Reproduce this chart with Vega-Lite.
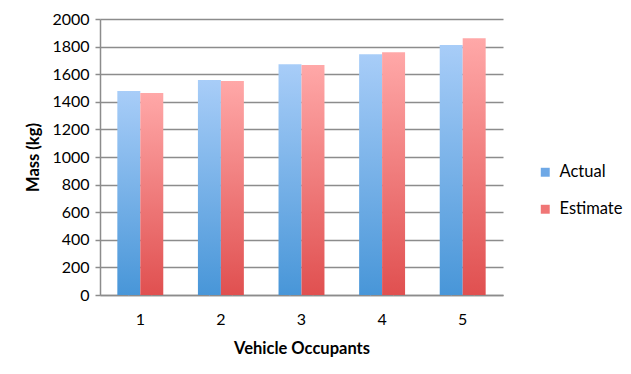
{
  "$schema": "https://vega.github.io/schema/vega-lite/v6.json",
  "width": 403,
  "height": 276,
  "autosize": {"type": "none"},
  "padding": {"left": 100, "top": 19, "right": 128, "bottom": 79},
  "background": "white",
  "data": {
    "values": [
      {"occupants": "1", "series": "Actual", "mass": 1478},
      {"occupants": "1", "series": "Estimate", "mass": 1464},
      {"occupants": "2", "series": "Actual", "mass": 1558},
      {"occupants": "2", "series": "Estimate", "mass": 1551},
      {"occupants": "3", "series": "Actual", "mass": 1672},
      {"occupants": "3", "series": "Estimate", "mass": 1667},
      {"occupants": "4", "series": "Actual", "mass": 1744},
      {"occupants": "4", "series": "Estimate", "mass": 1759},
      {"occupants": "5", "series": "Actual", "mass": 1812},
      {"occupants": "5", "series": "Estimate", "mass": 1860}
    ]
  },
  "encoding": {
    "x": {
      "field": "occupants",
      "type": "nominal",
      "scale": {"paddingInner": 0.43, "paddingOuter": 0.215},
      "axis": {
        "title": "Vehicle Occupants",
        "labelAngle": 0,
        "labelFont": "Lato",
        "labelFontSize": 16,
        "labelColor": "#000000",
        "labelPadding": 16,
        "ticks": false,
        "domainColor": "#8c8c8c",
        "domainWidth": 1.5,
        "titleFont": "Lato",
        "titleFontSize": 16.5,
        "titleFontWeight": "bold",
        "titleColor": "#000000",
        "titlePadding": 13
      }
    },
    "xOffset": {"field": "series", "type": "nominal", "scale": {"domain": ["Actual", "Estimate"], "paddingInner": 0, "paddingOuter": 0}},
    "y": {
      "field": "mass",
      "type": "quantitative",
      "scale": {"domain": [0, 2000], "nice": false},
      "axis": {
        "title": "Mass (kg)",
        "format": "d",
        "values": [0, 200, 400, 600, 800, 1000, 1200, 1400, 1600, 1800, 2000],
        "labelFont": "Lato",
        "labelFontSize": 16,
        "labelColor": "#000000",
        "labelPadding": 6,
        "tickSize": 5,
        "tickColor": "#8c8c8c",
        "tickWidth": 1.5,
        "domainColor": "#8c8c8c",
        "domainWidth": 1.5,
        "grid": true,
        "gridColor": "#8c8c8c",
        "gridWidth": 1.5,
        "titleFont": "Lato",
        "titleFontSize": 16.5,
        "titleFontWeight": "bold",
        "titleColor": "#000000",
        "titlePadding": 10
      }
    }
  },
  "layer": [
    {
      "mark": {"type": "square", "size": 1, "opacity": 1},
      "encoding": {
        "y": {"datum": 0},
        "color": {
          "field": "series",
          "type": "nominal",
          "scale": {"domain": ["Actual", "Estimate"], "range": ["#6ea8e6", "#f07676"]},
          "legend": {
            "title": null,
            "orient": "none",
            "legendX": 437,
            "legendY": 145,
            "symbolType": "square",
            "symbolSize": 80,
            "symbolStrokeWidth": 0,
            "symbolOpacity": 1,
            "labelFont": "Lato",
            "labelFontSize": 16.5,
            "labelColor": "#000000",
            "labelOffset": 6,
            "rowPadding": 20
          }
        }
      }
    },
    {
      "transform": [{"filter": "datum.series === 'Actual'"}],
      "mark": {"type": "bar", "fill": {"gradient": "linear", "x1": 0, "y1": 0, "x2": 0, "y2": 1, "stops": [{"offset": 0, "color": "#a8cdf8"}, {"offset": 1, "color": "#4896d8"}]}}
    },
    {
      "transform": [{"filter": "datum.series === 'Estimate'"}],
      "mark": {"type": "bar", "fill": {"gradient": "linear", "x1": 0, "y1": 0, "x2": 0, "y2": 1, "stops": [{"offset": 0, "color": "#ffa8a8"}, {"offset": 1, "color": "#e05050"}]}}
    }
  ],
  "config": {
    "view": {"stroke": null}
  }
}
